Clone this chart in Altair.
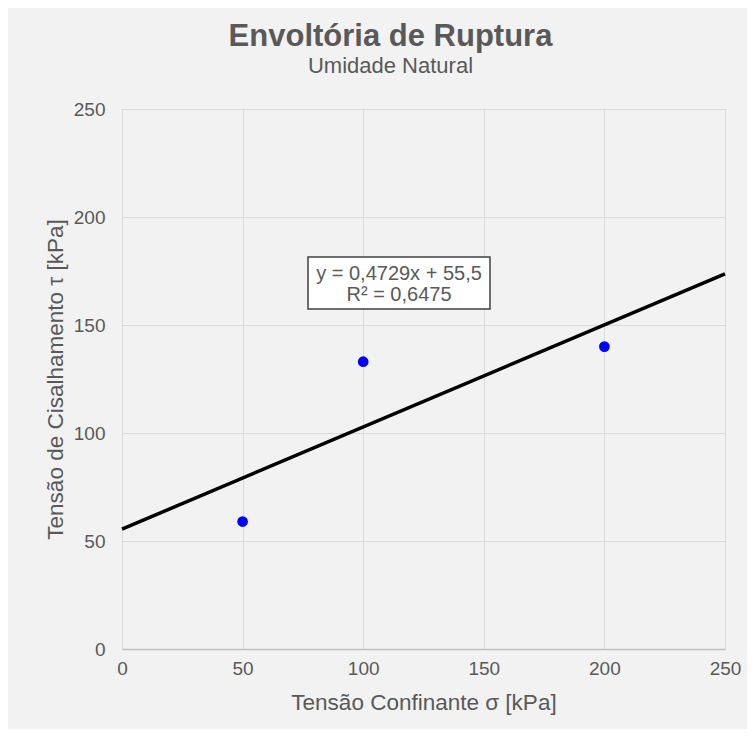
import altair as alt
import pandas as pd

sigma = [50, 100, 200]
tau = [59, 133, 140]
ticks = [0, 50, 100, 150, 200, 250]
eq_line1 = "y = 0,4729x + 55,5"
eq_line2 = "R² = 0,6475"

df = pd.DataFrame({"sigma": sigma, "tau": tau})
FONT = "Liberation Sans"
TXT = "#595959"

xsc = alt.Scale(domain=[0, 250], nice=False)
ysc = alt.Scale(domain=[0, 250], nice=False)

xax = alt.Axis(values=ticks, title="Tensão Confinante σ [kPa]", grid=True, gridColor="#d9d9d9",
               domainColor="#bfbfbf", domainWidth=1.5, ticks=False, labelPadding=10, labelFlush=False,
               labelFontSize=19, labelColor=TXT, titleFontSize=22.5, titleColor=TXT,
               titleFontWeight="normal", titlePadding=13, labelFont=FONT, titleFont=FONT)
yax = alt.Axis(values=ticks, title="Tensão de Cisalhamento τ [kPa]", grid=True, gridColor="#d9d9d9",
               domain=False, ticks=False, labelPadding=17, labelFlush=False,
               labelFontSize=19, labelColor=TXT, titleFontSize=22.5, titleColor=TXT,
               titleFontWeight="normal", titlePadding=6, labelFont=FONT, titleFont=FONT)

base = alt.Chart(df)

trend = base.transform_regression("sigma", "tau", extent=[0, 250]).mark_line(
    color="black", strokeWidth=3.5
).encode(x=alt.X("sigma:Q", scale=xsc, axis=xax), y=alt.Y("tau:Q", scale=ysc, axis=yax))

pts = base.mark_point(filled=True, color="#0000ff", size=115, opacity=1).encode(
    x=alt.X("sigma:Q", scale=xsc), y=alt.Y("tau:Q", scale=ysc)
)

one = pd.DataFrame({"a": [0]})
box = alt.Chart(one).mark_rect(
    fill="white", stroke="#404040", strokeWidth=1.5
).encode(x=alt.value(186), x2=alt.value(368), y=alt.value(148), y2=alt.value(200))

eq1 = alt.Chart(one).mark_text(font=FONT, fontSize=20, color=TXT, align="center", baseline="middle",
                               text=eq_line1).encode(x=alt.value(277), y=alt.value(165))
eq2 = alt.Chart(one).mark_text(font=FONT, fontSize=20, color=TXT, align="center", baseline="middle",
                               text=eq_line2).encode(x=alt.value(277), y=alt.value(185.5))

chart = alt.layer(trend, pts, box, eq1, eq2).properties(
    width=603, height=540,
    background="#f2f2f2",
    autosize=alt.AutoSizeParams(type="none"),
    padding={"left": 114, "top": 101, "right": 22, "bottom": 80},
    title=alt.TitleParams(
        "Envoltória de Ruptura", subtitle="Umidade Natural",
        font=FONT, fontSize=31, fontWeight="bold", color=TXT,
        subtitleFont=FONT, subtitleFontSize=22, subtitleColor=TXT,
        anchor="middle", dx=-33, offset=22, subtitlePadding=3,
    ),
).configure_view(stroke=None)

chart.save("out.html", embed_options={"renderer": "svg", "actions": False})
